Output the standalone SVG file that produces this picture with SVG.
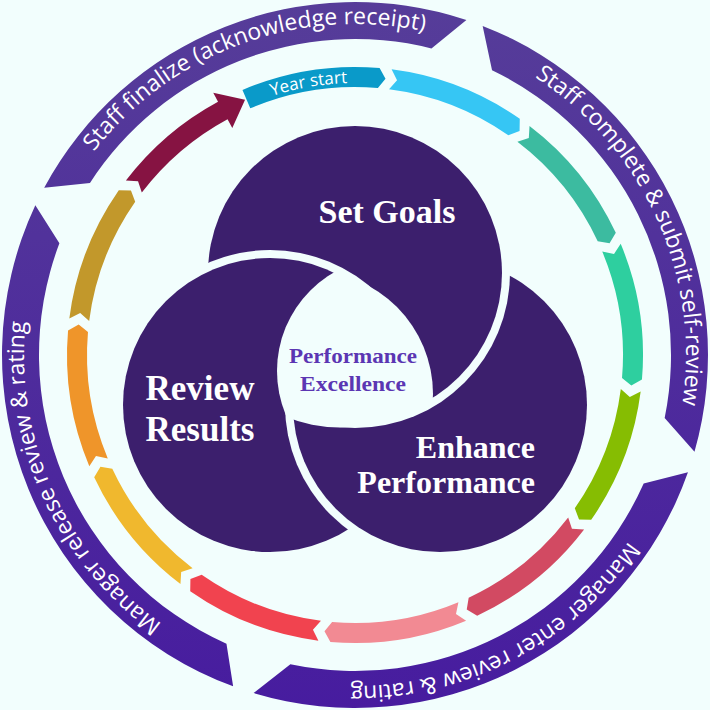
<svg xmlns="http://www.w3.org/2000/svg" xmlns:xlink="http://www.w3.org/1999/xlink" width="710" height="710" viewBox="0 0 710 710">
<style>
.ring{fill:url(#ringGrad)}
.ringText{font-family:"Open Sans","Liberation Sans",sans-serif;font-size:23px;fill:#ffffff}
.circ{fill:#3c1f6d}
.big{font-family:"Liberation Serif","DejaVu Serif",serif;font-weight:bold;fill:#ffffff}
.mid{font-family:"Liberation Serif","DejaVu Serif",serif;font-weight:bold;font-size:22px;fill:#5b36b3;text-anchor:middle}
</style>
<defs>
<linearGradient id="ringGrad" x1="0" y1="0" x2="0" y2="710" gradientUnits="userSpaceOnUse">
<stop offset="0" stop-color="#563d99"/>
<stop offset="1" stop-color="#471c9f"/>
</linearGradient>
<path id="chev" d="M360.03,67.04 A288,288 0 0 1 492.86,102.14 L494,114.25 L483.29,119.7 A268,268 0 0 0 359.68,87.04 L366.64,77.24 Z"/>
<path id="t1" d="M43.96,241.79 A331,331 0 0 1 520.5,68.35"/>
<path id="t2" d="M444.85,36.43 A331,331 0 0 1 653.13,498.8"/>
<path id="t3" d="M678.15,426.64 A331,331 0 0 1 228.33,660.8"/>
<path id="t4" d="M265.43,673.65 A331,331 0 0 1 56.74,211.46"/>
<path id="ty" d="M181.25,145.72 A272,272 0 0 1 449.37,99.89"/>
<mask id="mA" maskUnits="userSpaceOnUse" x="0" y="0" width="710" height="710"><rect width="710" height="710" fill="#fff"/><circle cx="270" cy="405" r="155" fill="#000"/><circle cx="310" cy="394" r="123" fill="#000"/></mask>
<mask id="mB" maskUnits="userSpaceOnUse" x="0" y="0" width="710" height="710"><rect width="710" height="710" fill="#fff"/><circle cx="440" cy="405" r="155" fill="#000"/><circle cx="391" cy="371" r="114" fill="#000"/></mask>
<mask id="mC" maskUnits="userSpaceOnUse" x="0" y="0" width="710" height="710"><rect width="710" height="710" fill="#fff"/><circle cx="355" cy="273" r="155" fill="#000"/><circle cx="340" cy="284" r="143.5" fill="#000"/></mask>
</defs>
<rect width="710" height="710" fill="#f2fefd"/>

<g id="stage-staff-finalize">
<path class="ring" d="M44.19,187.65 A353,353 0 0 1 466.42,20.05 L431.45,48.39 A316,316 0 0 0 89.98,182.89 Z"/>
<text class="ringText" text-anchor="middle"><textPath href="#t1" xlink:href="#t1" startOffset="50%">Staff finalize (acknowledge receipt)</textPath></text>
</g>
<g id="stage-self-review">
<path class="ring" d="M482.65,25.89 A353,353 0 0 1 694.49,451.71 L664.66,418 A316,316 0 0 0 492.04,70.26 Z"/>
<text class="ringText" text-anchor="middle"><textPath href="#t2" xlink:href="#t2" startOffset="50%">Staff complete &amp; submit self-review</textPath></text>
</g>
<g id="stage-manager-enter">
<path class="ring" d="M687.96,472.25 A353,353 0 0 1 253.56,693.11 L290.38,664.32 A316,316 0 0 0 643.68,483.53 Z"/>
<text class="ringText" text-anchor="middle"><textPath href="#t3" xlink:href="#t3" startOffset="50%">Manager enter review &amp; rating</textPath></text>
</g>
<g id="stage-manager-release">
<path class="ring" d="M233.11,686.29 A353,353 0 0 1 35.33,205.26 L59.4,243.3 A316,316 0 0 0 226.47,643.68 Z"/>
<text class="ringText" text-anchor="middle"><textPath href="#t4" xlink:href="#t4" startOffset="50%">Manager release review &amp; rating</textPath></text>
</g>

<g id="connectors">
<g id="year-start">
<path fill="#0a9ac9" d="M242.47,89.89 A288,288 0 0 1 379.6,68.05 L385.51,78.68 L377.89,87.98 A268,268 0 0 0 250.28,108.3 Z"/>
<text font-family="'Open Sans','Liberation Sans',sans-serif" font-size="17" fill="#ffffff" text-anchor="middle"><textPath href="#ty" xlink:href="#ty" startOffset="50%">Year start</textPath></text>
</g>
<use href="#chev" xlink:href="#chev" fill="#36c6f4" transform="rotate(6.3 355 355)"/>
<use href="#chev" xlink:href="#chev" fill="#3cbba0" transform="rotate(36.3 355 355)"/>
<use href="#chev" xlink:href="#chev" fill="#2ecf9f" transform="rotate(66.3 355 355)"/>
<use href="#chev" xlink:href="#chev" fill="#86bd02" transform="rotate(96.3 355 355)"/>
<use href="#chev" xlink:href="#chev" fill="#d24a62" transform="rotate(126.3 355 355)"/>
<use href="#chev" xlink:href="#chev" fill="#f28a93" transform="rotate(156.3 355 355)"/>
<use href="#chev" xlink:href="#chev" fill="#f1434f" transform="rotate(186.3 355 355)"/>
<use href="#chev" xlink:href="#chev" fill="#f0b82e" transform="rotate(216.3 355 355)"/>
<use href="#chev" xlink:href="#chev" fill="#ef952a" transform="rotate(246.3 355 355)"/>
<use href="#chev" xlink:href="#chev" fill="#c2982b" transform="rotate(276.3 355 355)"/>
<path fill="#861342" d="M125.9,180.48 A288,288 0 0 1 218.02,101.66 L213.26,92.86 L245.04,99.67 L232.29,128.05 L227.53,119.25 A268,268 0 0 0 141.81,192.6 L138.04,181.18 Z"/>
</g>

<g id="set-goals">
<circle class="circ" cx="355" cy="273" r="147" mask="url(#mA)"/>
<text class="big" x="387" y="223" font-size="34" text-anchor="middle">Set Goals</text>
</g>
<g id="review-results">
<circle class="circ" cx="270" cy="405" r="147" mask="url(#mB)"/>
<text class="big" x="200" y="400" font-size="35" text-anchor="middle">Review</text>
<text class="big" x="200" y="441" font-size="35" text-anchor="middle">Results</text>
</g>
<g id="enhance-performance">
<circle class="circ" cx="440" cy="405" r="147" mask="url(#mC)"/>
<text class="big" x="535" y="458" font-size="32" text-anchor="end">Enhance</text>
<text class="big" x="535" y="493" font-size="32" text-anchor="end">Performance</text>
</g>
<g id="performance-excellence">
<text class="mid" x="353" y="363" textLength="128" lengthAdjust="spacingAndGlyphs">Performance</text>
<text class="mid" x="353" y="391" textLength="106" lengthAdjust="spacingAndGlyphs">Excellence</text>
</g>
</svg>
